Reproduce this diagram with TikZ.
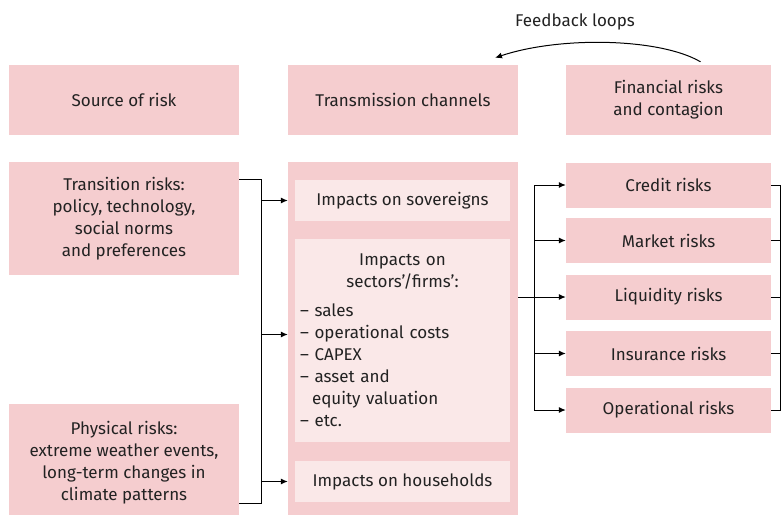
\documentclass[tikz,border=0pt]{standalone}
\usepackage{fontspec}
\setmainfont{Fira Sans}
\usepackage{tikz}
\usetikzlibrary{arrows.meta}
\definecolor{boxpink}{HTML}{F5CDCF}
\definecolor{innerpink}{HTML}{FAE8E8}
\definecolor{txtgrey}{HTML}{222222}

\begin{document}
\begin{tikzpicture}[x=1pt, y=-1pt,
		box/.style={fill=boxpink, inner sep=0pt, text=txtgrey, align=center, font=\fontsize{17}{22}\selectfont},
		inbox/.style={box, fill=innerpink},
		wire/.style={line width=1pt, black},
		arr/.style={wire, -{Latex[length=7pt, width=6pt]}}]
		\useasboundingbox (0,0) rectangle (781,514);
		\node[box, minimum width=230pt, minimum height=70pt] (source) at (124,100) {Source of risk};
		\node[box, minimum width=230pt, minimum height=70pt] (trans) at (403,100) {Transmission channels};
		\node[box, minimum width=205pt, minimum height=70pt] (fin) at (668.5,100) {Financial risks\\and contagion};
		\node[box, minimum width=230pt, minimum height=113pt] (transition) at (124,218.5) {Transition risks:\\policy, technology,\\social norms\\and preferences};
		\node[box, minimum width=230pt, minimum height=118pt] (phys) at (124,463) {Physical risks:\\extreme weather events,\\long-term changes in\\climate patterns};
		\node[box, minimum width=230pt, minimum height=362pt] (chan) at (403,343) {};
		\node[inbox, minimum width=215pt, minimum height=41pt] (sov) at (402.5,200.5) {Impacts on sovereigns};
		\node[inbox, minimum width=215pt, minimum height=203pt, text width=205pt, inner xsep=5pt, align=left] (sect) at (402.5,340.5) {\centering Impacts on\\sectors’/firms’:\par\vspace{7pt}\raggedright – sales\\– operational costs\\– CAPEX\\– asset and\\\hspace*{12pt}equity valuation\\– etc.};
		\node[inbox, minimum width=215pt, minimum height=41pt] (house) at (402.5,481.5) {Impacts on households};
		\node[box, minimum width=205pt, minimum height=45pt] (credit) at (668.5,185) {Credit risks};
		\node[box, minimum width=205pt, minimum height=45pt] (market) at (668.5,240.5) {Market risks};
		\node[box, minimum width=205pt, minimum height=45pt] (liq) at (668.5,297) {Liquidity risks};
		\node[box, minimum width=205pt, minimum height=45pt] (ins) at (668.5,353.5) {Insurance risks};
		\node[box, minimum width=205pt, minimum height=45pt] (oper) at (668.5,410) {Operational risks};
		\node[text=txtgrey, font=\fontsize{17}{22}\selectfont] (fb) at (575,22) {Feedback loops};
		\draw[arr] ([xshift=32pt, yshift=3pt]fin.north) .. controls (660,38) and (560,36) .. ([xshift=92pt, yshift=7pt]trans.north);
		\draw[wire] ([yshift=-18pt]transition.north east) -- ++(22,0) coordinate (lb) |- ([yshift=19pt]phys.south east);
		\draw[arr] (lb |- sov.west) -- (chan.west |- sov.west);
		\draw[arr] ([yshift=6pt]lb |- sect.west) -- ([yshift=6pt]chan.west |- sect.west);
		\draw[arr] (lb |- house.west) -- (chan.west |- house.west);
		\draw[arr] (chan.east |- liq.west) -- (liq.west);
		\coordinate (rb) at (534,0);
		\draw[wire] (rb |- credit.west) -- (rb |- oper.west);
		\foreach \n in {credit,market,ins,oper}
			\draw[arr] (rb |- \n.west) -- (\n.west);
		\draw[wire] (credit.east) -- ++(9,0) coordinate (rr) |- (oper.east);
		\foreach \n in {market,liq,ins}
			\draw[wire] (\n.east) -- (rr |- \n.east);
\end{tikzpicture}
\end{document}
